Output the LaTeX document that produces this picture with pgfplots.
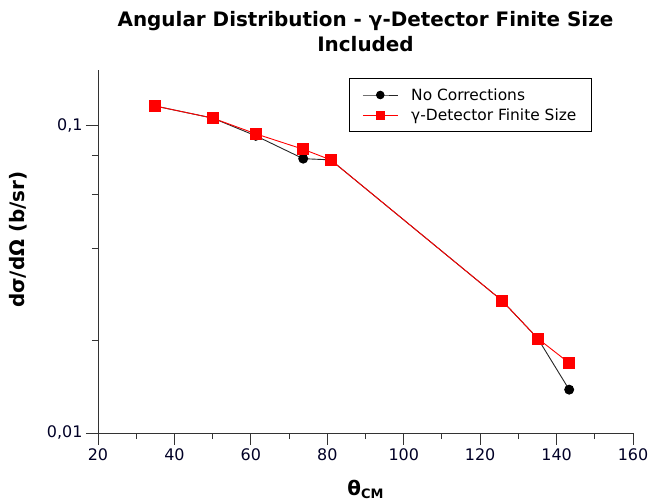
\documentclass[border=0pt]{standalone}
\usepackage{fontspec}
\setmainfont{DejaVu Sans}
\usepackage{pgfplots}
\pgfplotsset{compat=1.18}
\begin{document}
\begin{tikzpicture}
\begin{semilogyaxis}[
  scale only axis, width=535bp, height=363bp,
  xmin=20, xmax=160, ymin=0.01, ymax=0.152,
  axis lines*=left,
  axis line style={black!80, line width=0.9bp},
  every tick/.style={black!80, line width=0.9bp},
  tick align=outside,
  xtick={20,40,...,160}, minor xtick={30,50,...,150},
  ytick={0.01,0.1}, yticklabels={{0,01},{0,1}},
  minor ytick={0.02,0.04,0.06,0.08},
  major tick length=12bp, minor tick length=6bp,
  tick label style={font=\fontsize{16}{18}\selectfont, text=black!85!blue},
  /pgf/number format/assume math mode=true,
  title={Angular Distribution - γ-Detector Finite Size\\Included},
  title style={font=\bfseries\fontsize{20}{25}\selectfont, align=center, at={(axis description cs:0.5,1)}, anchor=south, yshift=9bp},
  ylabel={\bfseries dσ/dΩ (b/sr)},
  ylabel style={font=\fontsize{20}{24}\selectfont, at={(axis description cs:-0.1327,0.533)}, anchor=south, inner sep=0pt},
  xlabel={\bfseries θ\raisebox{-0.25ex}{\fontsize{13}{14}\selectfont CM}},
  xlabel style={font=\fontsize{20}{24}\selectfont, at={(axis description cs:0.5,0)}, anchor=north, yshift=-47bp, inner sep=0pt},
  legend style={at={(0.923,0.978)}, anchor=north east, draw=black, line width=0.8bp,
    font=\fontsize{15.5}{18}\selectfont, cells={anchor=west}, inner xsep=13bp, inner ysep=8bp, row sep=3bp,
    /tikz/every odd column/.append style={column sep=11bp}},
  legend image code/.code={\draw[mark repeat=2,mark phase=2, mark size=3.8bp] plot coordinates {(0bp,0bp) (17.5bp,0bp) (35bp,0bp)};},
  clip=false,
]
\addplot[black!85, line width=0.9bp, mark=*, mark size=4.5bp, mark options={fill=black, draw=black}]
  coordinates {(35,0.116) (50,0.106) (61.3,0.0928) (73.7,0.0782) (80.9,0.0775) (125.7,0.0270) (135.1,0.0203) (143.3,0.01384)};
\addlegendentry{No Corrections}
\addplot[red, line width=0.9bp, mark=square*, mark size=5.5bp, mark options={fill=red, draw=red}]
  coordinates {(35,0.116) (50,0.106) (61.3,0.0942) (73.7,0.0839) (80.9,0.0775) (125.7,0.0270) (135.1,0.0203) (143.3,0.0169)};
\addlegendentry{γ-Detector Finite Size}
\end{semilogyaxis}
\pgfresetboundingbox
\useasboundingbox (current axis.south west) ++(-98bp,-68bp) rectangle ++(649bp,501bp);
\end{tikzpicture}
\end{document}
